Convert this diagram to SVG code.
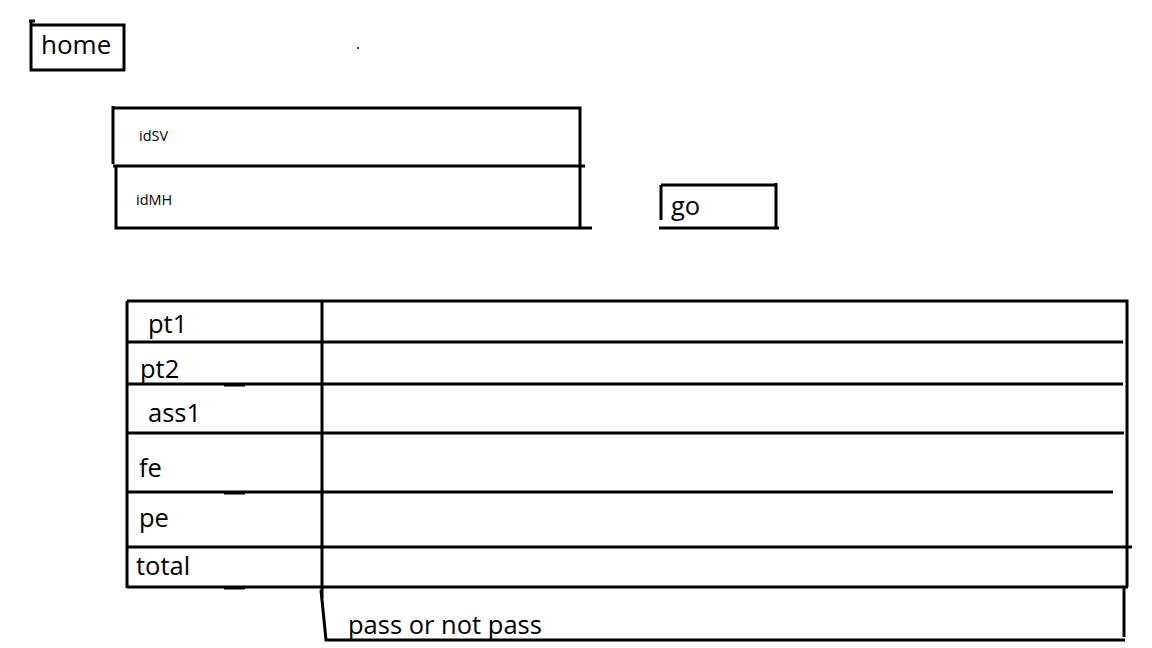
<svg xmlns="http://www.w3.org/2000/svg" width="1152" height="648" viewBox="0 0 1152 648">
<style>
.ln{stroke:#000;stroke-width:3;fill:none}
.tk{stroke:#000;stroke-width:2;fill:none}
.t{font-family:"Open Sans","Noto Sans",sans-serif;fill:#000}
.big{font-size:25.5px}
.sm{font-size:14.5px}
</style>
<rect width="1152" height="648" fill="#fff"/>
<g id="home">
<path class="ln" d="M31 25 H124 V71 M31 22 V70 H125 M29 21 H35"/>
<text class="t" x="41" y="54" font-size="26">home</text>
</g>
<circle cx="358" cy="48" r="1" fill="#000"/>
<g id="idSV">
<path class="ln" d="M113 108 H580 V166 M113 106 V164"/>
<text class="t sm" x="139" y="141">idSV</text>
</g>
<g id="idMH">
<path class="ln" d="M113 166 H585 M116 166 V228 H592 M580 166 V228"/>
<text class="t sm" x="136" y="205">idMH</text>
</g>
<g id="go">
<path class="ln" d="M661 185 H777 M661 185 V220 M776 183 V228 M659 228 H779"/>
<text class="t big" x="671" y="215">go</text>
</g>
<g id="table">
<path class="ln" d="M127 301 H1127 V587 M127 301 V588 M322 301 V598"/>
<path class="ln" d="M127 342 H1123 M127 384 H1123 M127 433 H1124 M127 492 H1113 M127 547 H1132 M127 587 H1128"/>
<path class="tk" d="M224 385.5 H245 M224 493.5 H245 M224 588.5 H245"/>
<text class="t big" x="148" y="333">pt1</text>
<text class="t big" x="140" y="378">pt2</text>
<text class="t big" x="148" y="422">ass1</text>
<text class="t big" x="139" y="477">fe</text>
<text class="t big" x="139" y="527">pe</text>
<text class="t big" x="136" y="575">total</text>
</g>
<g id="result">
<path class="ln" d="M321 590 L326 640 H1125 M1124 587 V637"/>
<text class="t big" x="348" y="634">pass or not pass</text>
</g>
</svg>
